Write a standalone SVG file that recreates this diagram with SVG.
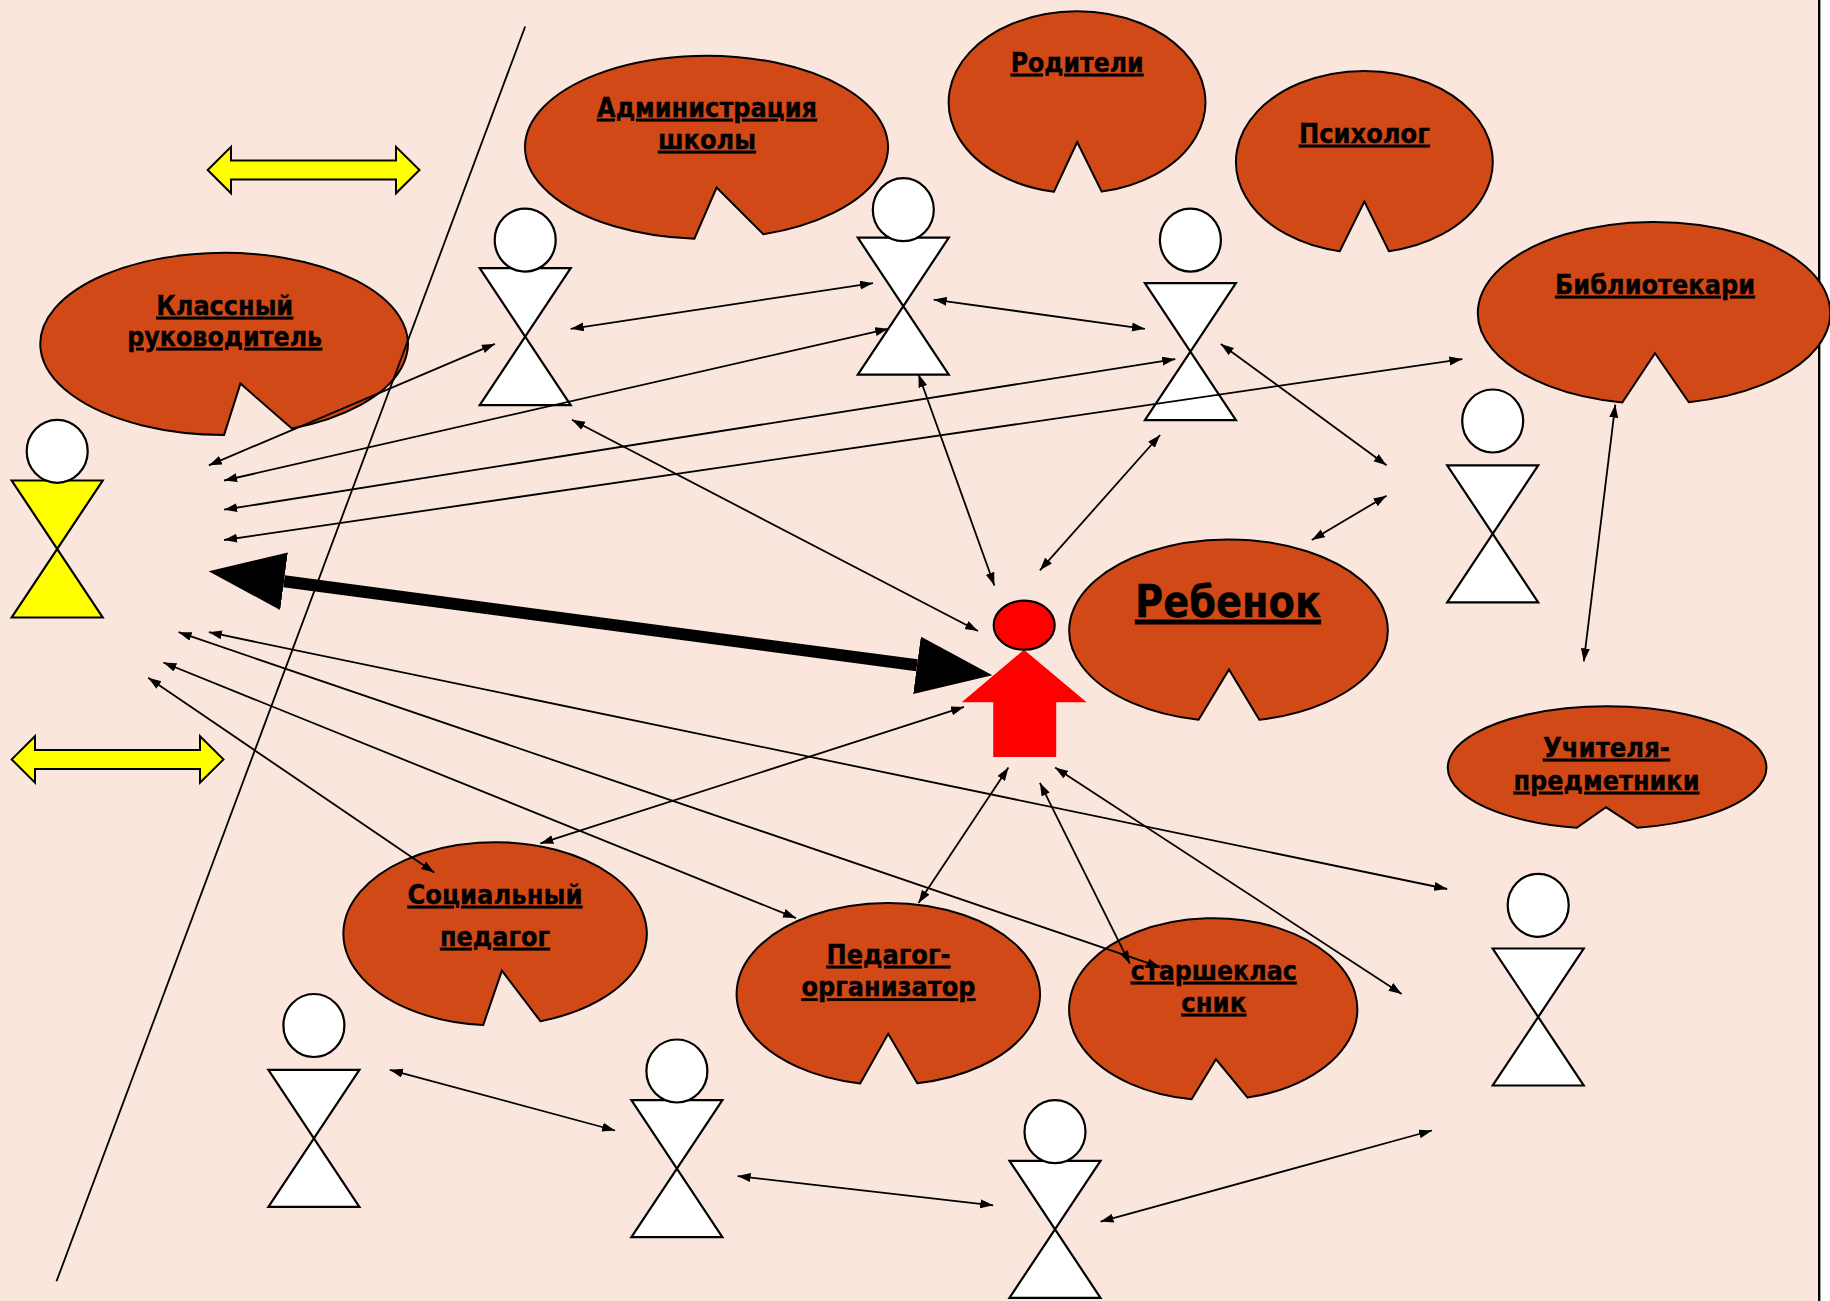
<svg xmlns="http://www.w3.org/2000/svg" xmlns:xlink="http://www.w3.org/1999/xlink" width="1830" height="1301" viewBox="0 0 1830 1301">
<style>
.bubble{fill:#D14917;stroke:#000;stroke-width:2}
.body{fill:#fff;stroke:#000;stroke-width:2.2}
.head{fill:#fff;stroke:#000;stroke-width:2.2}
.yel{fill:#FF0;stroke:#000;stroke-width:2}
.red{fill:#F00}
text{font-family:"DejaVu Sans","Liberation Sans",sans-serif;font-weight:700;font-size:26px;fill:#000;stroke:#000;stroke-width:.35;text-anchor:middle;text-decoration:underline;text-decoration-thickness:3px;text-decoration-skip-ink:none}
.big{font-size:44px;text-decoration-thickness:4px}
.conn line{stroke:#000;stroke-width:1.8;marker-start:url(#ah);marker-end:url(#ah)}
.conn line.thick{stroke-width:12;marker-start:url(#bh);marker-end:url(#bh)}
.conn line.plain{marker-start:none;marker-end:none}
</style>
<defs>
<marker id="ah" markerUnits="userSpaceOnUse" markerWidth="14" markerHeight="10" refX="13" refY="4.5" orient="auto-start-reverse"><path d="M0,0L13,4.5L0,9Z" fill="#000"/></marker>
<marker id="bh" markerUnits="userSpaceOnUse" markerWidth="77" markerHeight="60" refX="0" refY="29" orient="auto-start-reverse"><path d="M0,0L76,29L0,58Z" fill="#000"/></marker>
<polygon id="tie" points="-45.5,0 45.5,0 -45.5,137 45.5,137"/>
</defs>
<rect width="1830" height="1301" fill="#fff"/>
<rect width="1818" height="1301" fill="#FBE6DE"/>
<rect x="1818" width="2.4" height="1301" fill="#000"/>
<g transform="translate(0,0.8)">
<g id="arrow-top"><polygon class="yel" points="207.7,169.2 231,146 231,159.7 396,159.7 396,146 419.5,169.2 396,192.5 396,178.7 231,178.7 231,192.5"/></g>
<g id="arrow-bottom"><polygon class="yel" points="11.7,758.6 35,735.4 35,749.1 200,749.1 200,735.4 223.5,758.6 200,781.9 200,768.1 35,768.1 35,781.9"/></g>

<g id="b-klass"><path class="bubble" d="M224.1,434.1A183.8,91 0 1 1 291.8,427.7L240.4,382.8Z"/><text x="224.7" y="314" textLength="137" lengthAdjust="spacingAndGlyphs">Классный</text><text x="224.7" y="345" textLength="195" lengthAdjust="spacingAndGlyphs">руководитель</text></g>
<g id="b-admin"><path class="bubble" d="M694.4,237.9A181.5,91.6 0 1 1 763.3,233.5L716.6,186.7Z"/><text x="707" y="116" textLength="220" lengthAdjust="spacingAndGlyphs">Администрация</text><text x="707" y="148" textLength="98" lengthAdjust="spacingAndGlyphs">школы</text></g>
<g id="b-parents"><path class="bubble" d="M1053.9,191A128.4,91 0 1 1 1101.7,190.8L1077.2,141.2Z"/><text x="1077.2" y="71" textLength="133" lengthAdjust="spacingAndGlyphs">Родители</text></g>
<g id="b-psych"><path class="bubble" d="M1339.8,250.4A128.4,91 0 1 1 1388.9,250.4L1364.4,200.7Z"/><text x="1364.4" y="142" textLength="131" lengthAdjust="spacingAndGlyphs">Психолог</text></g>
<g id="b-libr"><path class="bubble" d="M1622.3,401.7A176.2,91 0 1 1 1688.8,401.4L1655,352.5Z"/><text x="1655" y="293" textLength="200" lengthAdjust="spacingAndGlyphs">Библиотекари</text></g>
<g id="b-child"><path class="bubble" d="M1198.6,719A159.3,91 0 1 1 1259.3,718.9L1229,668.7Z"/><text class="big" x="1228" y="616" textLength="186" lengthAdjust="spacingAndGlyphs">Ребенок</text></g>
<g id="b-teach"><path class="bubble" d="M1576.8,827A159.3,61.3 0 1 1 1637.4,827L1606,806.5Z"/><text x="1606.5" y="756" textLength="127" lengthAdjust="spacingAndGlyphs">Учителя-</text><text x="1606.5" y="789" textLength="186" lengthAdjust="spacingAndGlyphs">предметники</text></g>
<g id="b-social"><path class="bubble" d="M483.2,1024.3A151.7,91.6 0 1 1 540.4,1020.4L501.9,969.8Z"/><text x="495" y="903" textLength="175" lengthAdjust="spacingAndGlyphs">Социальный</text><text x="495" y="945" textLength="110" lengthAdjust="spacingAndGlyphs">педагог</text></g>
<g id="b-org"><path class="bubble" d="M860.2,1082.6A151.7,91 0 1 1 917.3,1082.5L888.2,1032.9Z"/><text x="888.5" y="963" textLength="124" lengthAdjust="spacingAndGlyphs">Педагог-</text><text x="888.5" y="995.5" textLength="174" lengthAdjust="spacingAndGlyphs">организатор</text></g>
<g id="b-senior"><path class="bubble" d="M1191.6,1098.4A144.1,91 0 1 1 1247.6,1096.8L1216,1058.5Z"/><text x="1213.8" y="979" textLength="166" lengthAdjust="spacingAndGlyphs">старшеклас</text><text x="1213.8" y="1011" textLength="65" lengthAdjust="spacingAndGlyphs">сник</text></g>

<g id="p1"><use href="#tie" class="body" x="525.2" y="267.3"/><ellipse class="head" cx="525.2" cy="239.3" rx="30.5" ry="31.5"/></g>
<g id="p2"><use href="#tie" class="body" x="903.3" y="236.9"/><ellipse class="head" cx="903.3" cy="208.9" rx="30.5" ry="31.5"/></g>
<g id="p3"><use href="#tie" class="body" x="1190.4" y="282.4"/><ellipse class="head" cx="1190.4" cy="239.3" rx="30.5" ry="31.5"/></g>
<g id="p4"><use href="#tie" class="body" x="1492.7" y="464.5"/><ellipse class="head" cx="1492.7" cy="420.2" rx="30.5" ry="31.5"/></g>
<g id="p5"><use href="#tie" style="fill:#FF0" stroke="#000" stroke-width="2.2" x="57.2" y="479.7"/><ellipse class="head" cx="57.2" cy="450.5" rx="30.5" ry="31.5"/></g>
<g id="p6"><use href="#tie" class="body" x="313.9" y="1069"/><ellipse class="head" cx="313.9" cy="1024.7" rx="30.5" ry="31.5"/></g>
<g id="p7"><use href="#tie" class="body" x="676.9" y="1099.4"/><ellipse class="head" cx="676.9" cy="1070.2" rx="30.5" ry="31.5"/></g>
<g id="p8"><use href="#tie" class="body" x="1055" y="1160"/><ellipse class="head" cx="1055" cy="1130.9" rx="30.5" ry="31.5"/></g>
<g id="p9"><use href="#tie" class="body" x="1538.2" y="947.7"/><ellipse class="head" cx="1538.2" cy="904.5" rx="30.5" ry="31.5"/></g>

<g id="child-figure"><polygon class="red" points="1024,649 1086.6,701.4 1056.2,701.4 1056.2,756.3 993.2,756.3 993.2,701.4 961.7,701.4"/><ellipse cx="1024.2" cy="624.4" rx="30.5" ry="24.5" fill="#F00" stroke="#000" stroke-width="2.2"/></g>

<g id="connectors" class="conn">
<line class="plain" x1="525.2" y1="25.7" x2="56.5" y2="1280.5"/>
<line x1="208.9" y1="464.5" x2="494.9" y2="343.1"/>
<line x1="224.1" y1="479.7" x2="888.2" y2="328"/>
<line x1="224.1" y1="508.9" x2="1175.3" y2="358.3"/>
<line x1="224.1" y1="539.2" x2="1462.4" y2="358.3"/>
<line x1="208.9" y1="631.4" x2="1447.2" y2="888.2"/>
<line x1="178.6" y1="631.4" x2="1160.1" y2="966.4"/>
<line x1="163.4" y1="661.7" x2="796" y2="917.3"/>
<line x1="148.2" y1="676.9" x2="434.2" y2="871.8"/>
<line x1="570.7" y1="328" x2="873" y2="282.4"/>
<line x1="933.7" y1="298.8" x2="1144.9" y2="328"/>
<line x1="571.9" y1="419" x2="978" y2="630.2"/>
<line x1="918.5" y1="373.5" x2="994.4" y2="584.7"/>
<line x1="1160.1" y1="434.2" x2="1039.9" y2="569.5"/>
<line x1="1220.8" y1="343.1" x2="1386.5" y2="464.5"/>
<line x1="1311.8" y1="539.2" x2="1386.5" y2="494.9"/>
<line x1="1615.3" y1="403.8" x2="1583.8" y2="660.6"/>
<line x1="964" y1="706.1" x2="540.4" y2="842.6"/>
<line x1="1008.4" y1="766.8" x2="918.5" y2="902.2"/>
<line x1="1039.9" y1="782" x2="1129.8" y2="962.9"/>
<line x1="1055.1" y1="766.8" x2="1401.7" y2="993.2"/>
<line x1="389.8" y1="1069" x2="615.1" y2="1129.7"/>
<line x1="737.6" y1="1175.3" x2="993.2" y2="1204.5"/>
<line x1="1100.6" y1="1220.8" x2="1432" y2="1129.7"/>
<line class="thick" x1="284" y1="580.5" x2="917" y2="664.5"/>
</g>
</g>
</svg>
